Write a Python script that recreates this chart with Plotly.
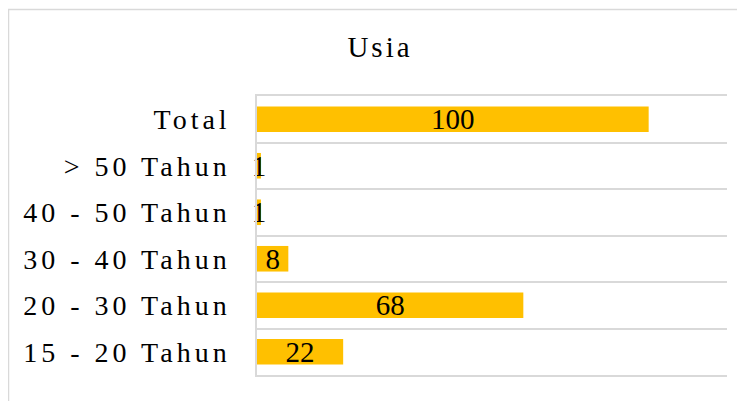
import html
import plotly.graph_objects as go

categories = ["15 - 20 Tahun", "20 - 30 Tahun", "30 - 40 Tahun", "40 - 50 Tahun", "> 50 Tahun", "Total"]
values = [22, 68, 8, 1, 1, 100]
title_text = "Usia"

FONT = "Liberation Serif, Times New Roman, serif"
GRID = "#d9d9d9"

# page has an 8px body margin; figure coordinates = page coordinates - 8
OFF = 8
W, H = 745 - OFF, 401 - OFF
ML, MR, MT, MB = 257 - OFF, 745 - 727, 96 - OFF, 401 - 375


def spaced(s, px):
    return f'<span style="letter-spacing:{px}px">{html.escape(s, quote=False)}</span>'


fig = go.Figure(
    go.Bar(
        x=values,
        y=categories,
        orientation="h",
        marker=dict(color="#FFC000", line=dict(width=0)),
        text=[str(v) for v in values],
        textposition="inside",
        insidetextanchor="middle",
        textangle=0,
        constraintext="none",
        textfont=dict(family=FONT, size=29, color="black"),
        cliponaxis=False,
        hoverinfo="skip",
    )
)

pw = W - ML - MR
ph = H - MT - MB
fig.add_shape(
    type="rect", xref="paper", yref="paper",
    x0=(0.5 - ML) / pw, x1=1.3, y0=-0.5, y1=(H - MB - 1.5) / ph,
    line=dict(color=GRID, width=1.5), fillcolor="rgba(0,0,0,0)", layer="below",
)

fig.update_layout(
    width=W, height=H,
    margin=dict(l=ML, r=MR, t=MT, b=MB),
    paper_bgcolor="white", plot_bgcolor="white",
    showlegend=False,
    bargap=0.45,
    uniformtext=dict(mode="show", minsize=29),
    title=dict(
        text=spaced(title_text, 3),
        x=(380 - OFF) / W, xanchor="center", xref="container",
        y=1 - (47 - OFF) / H, yanchor="middle", yref="container",
        font=dict(family=FONT, size=29, color="black"),
    ),
    xaxis=dict(
        range=[0, 120], fixedrange=True,
        showticklabels=False, ticks="", showgrid=False, zeroline=False,
        showline=True, mirror=True, linecolor=GRID, linewidth=1.5,
    ),
    yaxis=dict(
        type="category",
        categoryorder="array",
        categoryarray=categories,
        tickvals=categories,
        ticktext=[spaced(c, 4) for c in categories],
        tickson="boundaries",
        showgrid=True, gridcolor=GRID, gridwidth=1.5,
        showline=True, linecolor=GRID, linewidth=1.5,
        ticks="", ticklabelstandoff=19,
        tickfont=dict(family=FONT, size=28, color="black"),
        range=[-0.5, 5.5],
        zeroline=False,
    ),
)

fig.write_html("out.html")
